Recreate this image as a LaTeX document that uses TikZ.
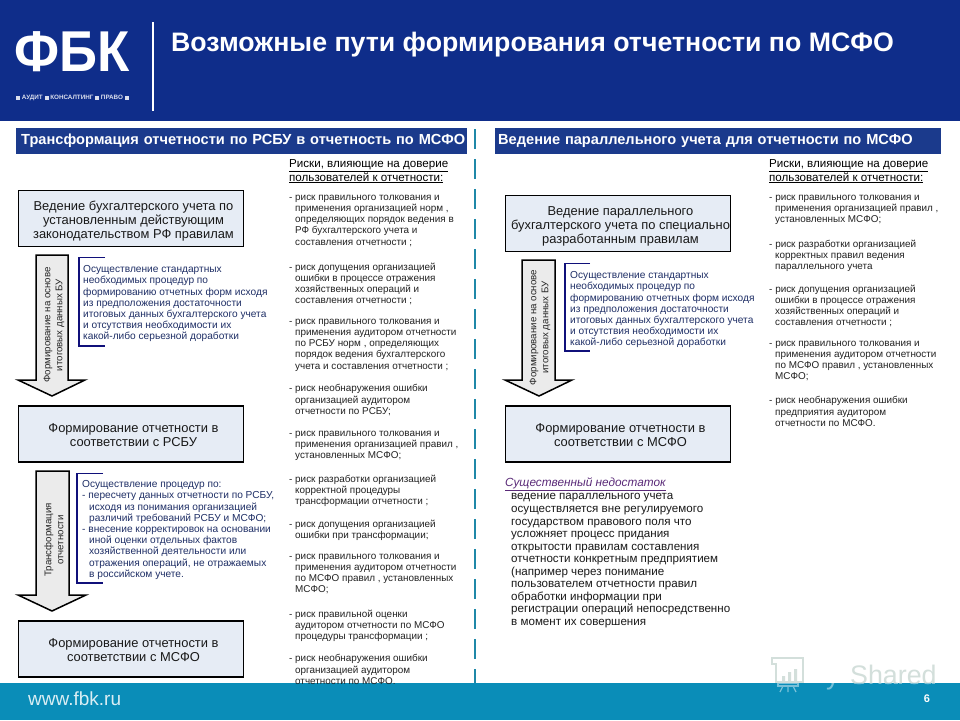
\documentclass[tikz,border=0pt]{standalone}
\usepackage{fontspec}
\setmainfont{Liberation Sans}
\usetikzlibrary{shapes.geometric}
\definecolor{navy}{HTML}{0F2D8A}
\definecolor{band}{HTML}{1B3A8C}
\definecolor{teal}{HTML}{0A8DB8}
\definecolor{dashc}{HTML}{1F88A8}
\definecolor{boxf}{HTML}{E6ECF5}
\definecolor{brk}{HTML}{10107A}
\definecolor{bt}{HTML}{1F2F66}
\definecolor{rt}{HTML}{222222}
\definecolor{purp}{HTML}{5A2A78}
\definecolor{wm}{HTML}{D3DFDB}
\tikzset{
 x=1pt,y=-1pt,
 flowbox/.style={draw=black,line width=1.6pt,fill=boxf,minimum width=225pt,minimum height=56pt,inner sep=0pt,align=center,font=\fontsize{12.9}{14}\selectfont,text=black!90},
 bandbox/.style={fill=band,text=white,inner sep=0pt,minimum height=26pt,anchor=west,font=\bfseries\fontsize{14.6}{16}\selectfont},
 risktext/.style={anchor=north west,inner sep=0pt,yshift=2.5pt,align=left,text=rt,font=\fontsize{9.9}{11.3}\selectfont,execute at begin node={\rule{0pt}{8pt}}},
 riskhead/.style={anchor=north west,inner sep=0pt,yshift=4pt,align=left,text=black,font=\fontsize{11.6}{14}\selectfont,execute at begin node={\rule{0pt}{10pt}}},
 brtext/.style={anchor=north west,inner sep=0pt,yshift=2.5pt,align=left,text=bt,font=\fontsize{10.15}{11.2}\selectfont,execute at begin node={\rule{0pt}{8pt}}},
 fatarrow/.style={draw=black,line width=1.5pt,fill=black!8,line join=miter},
 bracket/.style={draw=brk,line width=1.5pt},
 arrowtext/.style={rotate=90,align=center,inner sep=0pt,text=black!85,font=\fontsize{9.7}{12}\selectfont},
 dashline/.style={draw=dashc,line width=2.2pt,dash pattern=on 20pt off 10pt}
}
\newcommand{\ind}{\hspace*{6pt}}
\newcommand{\sft}{\hspace*{5pt}}
\begin{document}
\begin{tikzpicture}
\useasboundingbox (0,0) rectangle (960,720);
\fill[white] (0,0) rectangle (960,720);
% header and footer
\fill[navy] (0,0) rectangle (960,121);
\fill[teal] (0,683) rectangle (960,720);
\node[anchor=center,inner sep=0pt,text=white] (logo) at (72.5,52) {\scalebox{1.32}[1.44]{\bfseries\fontsize{40}{40}\selectfont ФБК}};
\node[anchor=center,inner sep=0pt,text=white!85!navy,font=\bfseries\fontsize{6.3}{7}\selectfont] (logosub) at (72.5,98) {\rule{4pt}{4pt} АУДИТ \rule{4pt}{4pt} КОНСАЛТИНГ \rule{4pt}{4pt} ПРАВО \rule{4pt}{4pt}};
\coordinate (rulea) at (153,22);
\coordinate (ruleb) at (153,111);
\draw[white,line width=1.6pt] (rulea) -- (ruleb);
\node[anchor=west,inner sep=0pt,text=white,font=\bfseries\fontsize{26.7}{30}\selectfont] (title) at (171,45) {Возможные пути формирования отчетности по МСФО};
% watermark
\begin{scope}
\clip (700,640) rectangle (960,683);
\node[anchor=base west,inner sep=0pt,text=wm,font=\fontsize{26.8}{30}\selectfont] (wma) at (850,684) {Shared};
\draw[wm,line width=1.4pt] (772,664) -- (772,658) -- (803,658) -- (803,682) -- (776,682) -- (776,664) -- cycle;
\fill[wm] (782,676) rectangle (785,682) (788,672) rectangle (791,682) (794,669) rectangle (797,682);
\end{scope}
\begin{scope}
\clip (700,683) rectangle (960,720);
\node[anchor=base west,inner sep=0pt,text=white!45!teal,font=\fontsize{26.8}{30}\selectfont] (wmb) at (850,684) {Shared};
\node[anchor=base west,inner sep=0pt,text=white!45!teal,font=\fontsize{26.8}{30}\selectfont] (wmc) at (826,684) {y};
\draw[white!45!teal,line width=1.2pt] (778,683) rectangle (798,686);
\draw[white!45!teal,line width=1.2pt] (783,686) -- (780,692) (788,686) -- (788,692) (793,686) -- (796,692);
\end{scope}
% bands
\node[bandbox,minimum width=451pt,text width=451pt] (bandl) at (16,141) {\hspace*{5pt}\raisebox{-2pt}{Трансформация отчетности по РСБУ в отчетность по МСФО}};
\node[bandbox,minimum width=446pt,text width=446pt] (bandr) at (495,141) {\hspace*{3pt}\raisebox{-2pt}{Ведение параллельного учета для отчетности по МСФО}};
% dashed divider
\coordinate (dasha) at (475,129);
\coordinate (dashb) at (475,683);
\draw[dashline] (dasha) -- (dashb);
% boxes
\node[flowbox] (b1) at (131,218.5) {\rule{0pt}{14pt}\sft Ведение бухгалтерского учета по\\\sft установленным действующим\\\sft законодательством РФ правилам};
\node[flowbox] (b2) at (131,434) {\rule{0pt}{11.5pt}\sft Формирование отчетности в\\\sft соответствии с РСБУ};
\node[flowbox] (b3) at (131,649) {\rule{0pt}{11.5pt}\sft Формирование отчетности в\\\sft соответствии с МСФО};
\node[flowbox] (b4) at (618,223.5) {\rule{0pt}{14pt}\sft Ведение параллельного\\\sft бухгалтерского учета по специально\\\sft разработанным правилам};
\node[flowbox] (b5) at (618,434) {\rule{0pt}{11.5pt}\sft Формирование отчетности в\\\sft соответствии с МСФО};
% fat arrows
\draw[fatarrow] (36,255) -- (68,255) -- (68,380) -- (85,380) -- (52,396) -- (18,380) -- (36,380) -- cycle;
\draw[fatarrow] (36,471) -- (69,471) -- (69,595) -- (86,595) -- (52,611) -- (18,595) -- (36,595) -- cycle;
\draw[fatarrow] (522,260) -- (555,260) -- (555,380) -- (572,380) -- (539,396) -- (505,380) -- (522,380) -- cycle;
\node[arrowtext] (a1) at (54,325) {Формирование на основе\\итоговых данных БУ};
\node[arrowtext] (a2) at (54,540) {Трансформация\\отчетности};
\node[arrowtext] (a3) at (540,327.5) {Формирование на основе\\итоговых данных БУ};
% brackets
\draw[bracket] (105,257.5) -- (79,257.5) -- (79,346) -- (105,346);
\draw[bracket] (103,473.5) -- (77,473.5) -- (77,583) -- (103,583);
\draw[bracket] (590,263.5) -- (565,263.5) -- (565,351) -- (590,351);
\node[brtext] (t1) at (83,268) {Осуществление стандартных\\необходимых процедур по\\формированию отчетных форм исходя\\из предположения достаточности\\итоговых данных бухгалтерского учета\\и отсутствия необходимости их\\какой-либо серьезной доработки};
\node[brtext] (t2) at (82,483) {Осуществление процедур по:\\- пересчету данных отчетности по РСБУ,\\\hspace*{7pt}исходя из понимания организацией\\\hspace*{7pt}различий требований РСБУ и МСФО;\\- внесение корректировок на основании\\\hspace*{7pt}иной оценки отдельных фактов\\\hspace*{7pt}хозяйственной деятельности или\\\hspace*{7pt}отражения операций, не отражаемых\\\hspace*{7pt}в российском учете.};
\node[brtext] (t3) at (570,274) {Осуществление стандартных\\необходимых процедур по\\формированию отчетных форм исходя\\из предположения достаточности\\итоговых данных бухгалтерского учета\\и отсутствия необходимости их\\какой-либо серьезной доработки};
% left risks
\node[riskhead] (hl) at (289,163) {\underline{Риски, влияющие на доверие}\\\underline{пользователей к отчетности:}};
\node[risktext] (l1) at (289,197) {- риск правильного толкования и\\\ind применения организацией норм ,\\\ind определяющих порядок ведения в\\\ind РФ бухгалтерского учета и\\\ind составления отчетности ;};
\node[risktext] (l2) at (289,265) {- риск допущения организацией\\\ind ошибки в процессе отражения\\\ind хозяйственных операций и\\\ind составления отчетности ;};
\node[risktext] (l3) at (289,321) {- риск правильного толкования и\\\ind применения аудитором отчетности\\\ind по РСБУ норм , определяющих\\\ind порядок ведения бухгалтерского\\\ind учета и составления отчетности ;};
\node[risktext] (l4) at (289,387) {- риск необнаружения ошибки\\\ind организацией аудитором\\\ind отчетности по РСБУ;};
\node[risktext] (l5) at (289,433) {- риск правильного толкования и\\\ind применения организацией правил ,\\\ind установленных МСФО;};
\node[risktext] (l6) at (289,477) {- риск разработки организацией\\\ind корректной процедуры\\\ind трансформации отчетности ;};
\node[risktext] (l7) at (289,522) {- риск допущения организацией\\\ind ошибки при трансформации;};
\node[risktext] (l8) at (289,556) {- риск правильного толкования и\\\ind применения аудитором отчетности\\\ind по МСФО правил , установленных\\\ind МСФО;};
\node[risktext] (l9) at (289,612) {- риск правильной оценки\\\ind аудитором отчетности по МСФО\\\ind процедуры трансформации ;};
\node[risktext] (l10) at (289,657) {- риск необнаружения ошибки\\\ind организацией аудитором\\\ind отчетности по МСФО.};
% right risks
\node[riskhead] (hr) at (769,163) {\underline{Риски, влияющие на доверие}\\\underline{пользователей к отчетности:}};
\node[risktext] (r1) at (769,197) {- риск правильного толкования и\\\ind применения организацией правил ,\\\ind установленных МСФО;};
\node[risktext] (r2) at (769,242) {- риск разработки организацией\\\ind корректных правил ведения\\\ind параллельного учета};
\node[risktext] (r3) at (769,287) {- риск допущения организацией\\\ind ошибки в процессе отражения\\\ind хозяйственных операций и\\\ind составления отчетности ;};
\node[risktext] (r4) at (769,343) {- риск правильного толкования и\\\ind применения аудитором отчетности\\\ind по МСФО правил , установленных\\\ind МСФО;};
\node[risktext] (r5) at (769,399) {- риск необнаружения ошибки\\\ind предприятия аудитором\\\ind отчетности по МСФО.};
% drawback
\node[anchor=west,inner sep=0pt,text=purp,font=\itshape\fontsize{11.8}{13}\selectfont] (dh) at (505,484) {\underline{Существенный недостаток}};
\node[anchor=north west,inner sep=0pt,yshift=2.5pt,align=left,text=black!90,font=\fontsize{11.6}{12.55}\selectfont,execute at begin node={\rule{0pt}{10pt}}] (dt) at (511,496) {ведение параллельного учета\\осуществляется вне регулируемого\\государством правового поля что\\усложняет процесс придания\\открытости правилам составления\\отчетности конкретным предприятием\\(например через понимание\\пользователем отчетности правил\\обработки информации при\\регистрации операций непосредственно\\в момент их совершения};
% footer text
\node[anchor=west,inner sep=0pt,text=white!85!teal,font=\fontsize{19}{20}\selectfont] (url) at (28,699) {www.fbk.ru};
\node[anchor=center,inner sep=0pt,text=white,font=\bfseries\fontsize{11}{12}\selectfont] (pg) at (927,699) {6};
\end{tikzpicture}
\end{document}
